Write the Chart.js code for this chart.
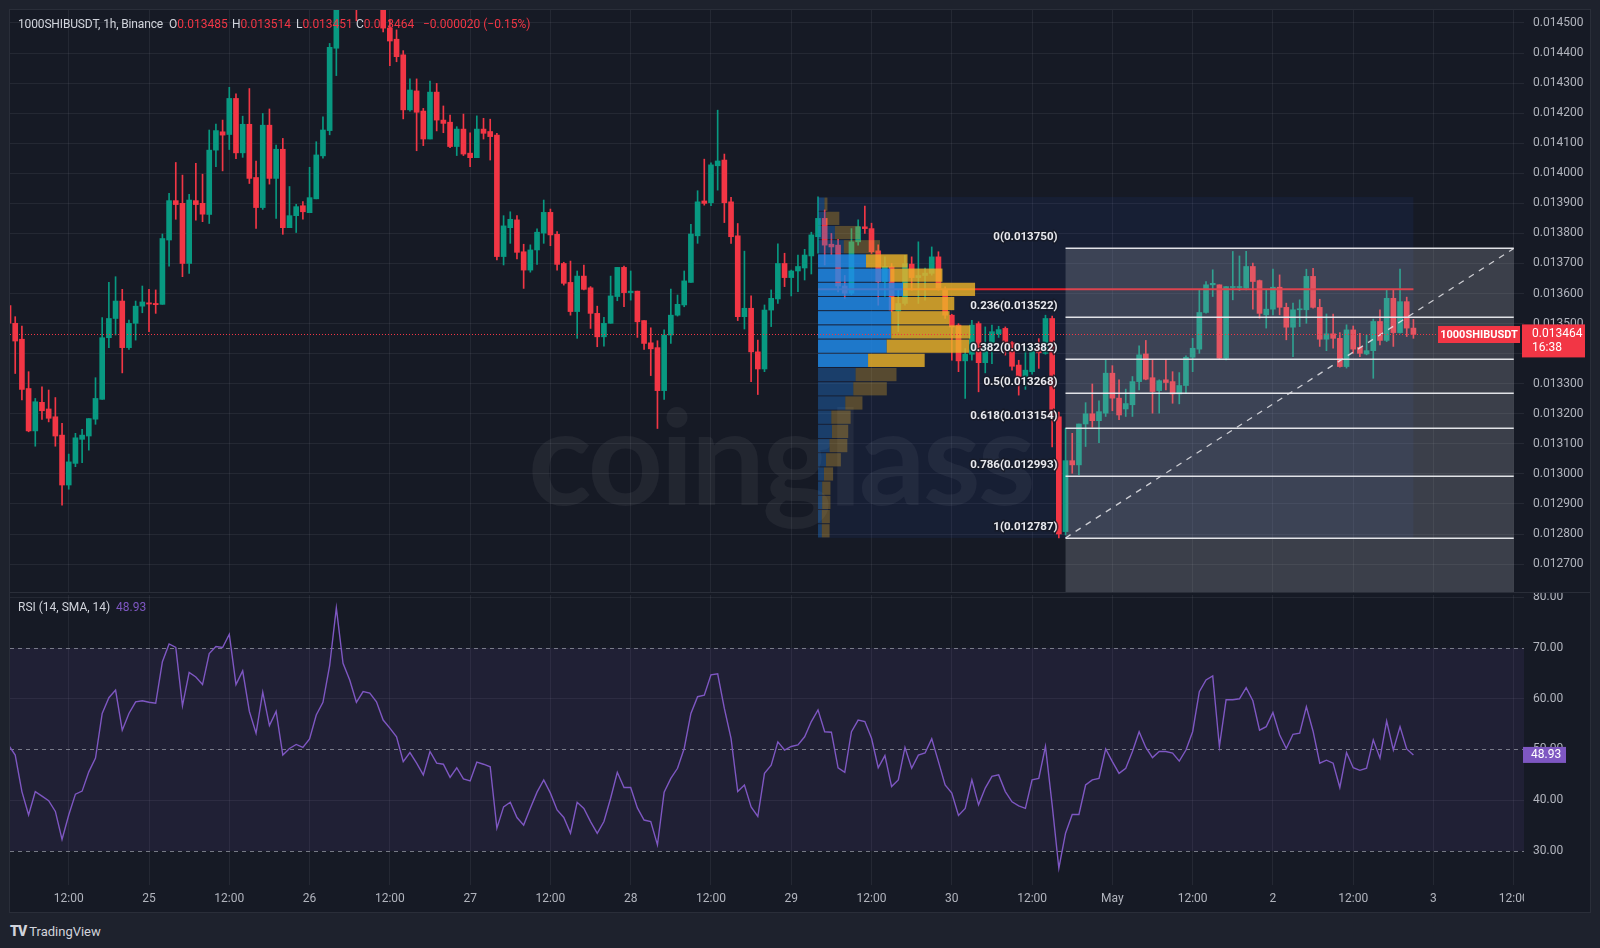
<!DOCTYPE html>
<html><head><meta charset="utf-8">
<script src="https://cdn.jsdelivr.net/npm/chart.js@4.4.1/dist/chart.umd.min.js"></script>
<style>
html,body{margin:0;padding:0}
body{width:1600px;height:948px;overflow:hidden;position:relative;background:#1e222d;font-family:Roboto,"DejaVu Sans",sans-serif}
#pane{position:absolute;left:10px;top:10px;width:1580px;height:902px;background:#161a25;box-shadow:0 0 0 1px #2a2e39}
#sep{position:absolute;left:10px;top:592px;width:1580px;height:1px;background:#2a2e39;z-index:3}
#wm{position:absolute;left:528px;top:388px;font-family:Lato,"Open Sans",sans-serif;font-weight:700;font-size:132px;line-height:132px;letter-spacing:-3px;color:rgba(255,255,255,0.055);z-index:1;white-space:nowrap}
canvas{position:absolute;left:0;z-index:2}
.t{position:absolute;font-size:12px;line-height:14px;color:#d1d4dc;white-space:nowrap;z-index:4}
.r{color:#f23645}
.p{color:#7e57c2}
#tv{position:absolute;left:10px;top:922px;color:#d1d4dc;font-size:13px;line-height:18px;white-space:nowrap}
#tv b{font-weight:900;letter-spacing:-1px;margin-right:3px;font-size:14px}
</style></head>
<body>
<div id="pane"></div>
<div id="wm">coinglass</div>
<canvas id="price" width="1600" height="593" style="top:0"></canvas>
<canvas id="rsi" width="1600" height="319" style="top:593px"></canvas>
<div id="sep"></div>
<div class="t" style="left:18px;top:17px;letter-spacing:-0.15px">1000SHIBUSDT, 1h, Binance</div>
<div class="t" style="left:169px;top:17px">O<span class="r">0.013485</span></div>
<div class="t" style="left:232px;top:17px">H<span class="r">0.013514</span></div>
<div class="t" style="left:296px;top:17px">L<span class="r">0.013451</span></div>
<div class="t" style="left:356px;top:17px">C<span class="r">0.013464</span></div>
<div class="t r" style="left:423px;top:17px">−0.000020 (−0.15%)</div>
<div class="t" style="left:18px;top:600px">RSI (14, SMA, 14)</div>
<div class="t p" style="left:116px;top:600px">48.93</div>
<div id="tv"><b>TV</b>TradingView</div>
<script>
// ---- DATA (prices in units of 0.000001 USDT) ----
const firstHour = -21; // hours relative to 25 Apr 00:00
const open = [13560,13501,13448,13284,13143,13238,13216,13190,13129,12963,13035,13115,13126,13182,13248,13453,13517,13575,13420,13501,13558,13569,13567,13564,13778,13909,13900,13700,13909,13900,13863,14077,14138,14129,14249,14068,14163,13986,13886,14160,13983,14080,13819,13859,13892,13869,13915,14058,14142,14416,14560,14620,14680,14600,14640,14610,14580,14483,14446,14394,14211,14274,14207,14114,14270,14177,14170,14089,14147,14067,14052,14147,14139,14127,13723,13819,13845,13739,13678,13745,13801,13870,13797,13700,13637,13540,13658,13619,13534,13456,13501,13590,13687,13603,13608,13510,13436,13420,13277,13462,13528,13562,13637,13792,13908,13902,14025,14044,13905,13792,13523,13551,13406,13349,13545,13582,13700,13653,13675,13685,13725,13789,13850,13764,13761,13625,13601,13772,13822,13816,13742,13639,13689,13542,13567,13698,13653,13660,13667,13722,13611,13528,13495,13376,13398,13500,13370,13431,13465,13484,13436,13362,13323,13340,13417,13401,13517,13190,12808,13044,13030,13166,13200,13177,13202,13335,13252,13216,13230,13307,13399,13320,13277,13313,13307,13266,13294,13388,13415,13537,13629,13629,13385,13620,13620,13618,13690,13643,13529,13548,13621,13554,13488,13546,13546,13657,13554,13448,13466,13451,13357,13479,13421,13399,13410,13507,13444,13584,13470,13573,13485];
const high = [13570,13523,13492,13340,13251,13290,13279,13254,13168,13066,13135,13148,13184,13320,13520,13637,13656,13614,13512,13575,13625,13614,13612,13798,13933,14036,13994,13930,14033,13997,14144,14164,14177,14286,14264,14190,14282,14041,14199,14214,14094,14116,13956,13897,13906,14020,14105,14188,14432,14580,14660,14720,14700,14680,14660,14630,14600,14510,14477,14408,14314,14314,14216,14307,14299,14224,14194,14155,14197,14135,14191,14183,14180,14133,13859,13872,13859,13764,13762,13815,13911,13881,13806,13704,13708,13675,13695,13623,13558,13521,13658,13687,13691,13675,13608,13510,13486,13443,13479,13615,13595,13675,13830,13942,14047,14035,14210,14064,13920,13833,13741,13592,13445,13562,13612,13765,13734,13678,13728,13747,13804,13922,13878,13800,13780,13660,13816,13845,13891,13834,13762,13722,13700,13611,13727,13722,13772,13685,13755,13739,13622,13531,13500,13417,13511,13506,13489,13495,13491,13489,13440,13378,13423,13431,13450,13528,13525,13206,13152,13135,13166,13237,13299,13243,13379,13360,13313,13282,13324,13426,13444,13379,13313,13381,13340,13337,13393,13451,13614,13640,13679,13629,13623,13740,13725,13740,13701,13645,13612,13681,13662,13568,13568,13579,13681,13684,13581,13532,13532,13470,13496,13492,13468,13462,13515,13546,13612,13614,13681,13588,13514];
const low = [13495,13334,13246,13140,13092,13181,13173,13092,12896,12949,13024,13037,13079,13165,13248,13420,13462,13336,13414,13445,13536,13473,13534,13564,13691,13847,13656,13667,13844,13839,13833,14022,14008,14079,14049,14053,13966,13817,13880,13964,13850,13797,13819,13803,13847,13869,13915,14050,14128,14325,14555,14600,14507,14570,14560,14555,14470,14358,14371,14181,14207,14075,14092,14114,14141,14135,14085,14059,14059,14022,14052,14114,14044,13712,13695,13767,13715,13617,13671,13697,13767,13759,13678,13628,13528,13451,13612,13484,13423,13425,13501,13576,13556,13578,13454,13414,13327,13151,13248,13434,13525,13556,13637,13767,13894,13892,13944,13836,13767,13510,13482,13307,13264,13340,13490,13567,13623,13592,13606,13645,13665,13734,13695,13729,13605,13584,13596,13761,13800,13733,13561,13590,13539,13473,13561,13611,13567,13578,13661,13611,13517,13378,13340,13251,13378,13273,13336,13367,13454,13395,13345,13262,13281,13332,13351,13398,13090,12787,12797,13002,12997,13091,13155,13104,13191,13210,13180,13191,13191,13279,13313,13202,13202,13279,13235,13233,13268,13340,13401,13535,13590,13381,13379,13579,13610,13612,13548,13518,13485,13529,13529,13446,13390,13490,13501,13551,13424,13410,13418,13355,13352,13401,13390,13396,13318,13429,13440,13424,13468,13457,13451];
const close = [13501,13442,13281,13143,13240,13210,13185,13126,12963,13040,13120,13129,13184,13251,13453,13517,13575,13420,13501,13558,13572,13565,13563,13783,13909,13896,13700,13911,13896,13864,14077,14142,14127,14249,14068,14163,13983,13886,14160,13983,14080,13819,13859,13889,13872,13919,14061,14144,14419,14560,14620,14680,14600,14640,14610,14580,14483,14440,14388,14211,14277,14203,14114,14270,14177,14166,14089,14147,14064,14052,14147,14133,14122,13723,13825,13847,13737,13678,13745,13804,13870,13795,13697,13634,13540,13658,13614,13534,13456,13501,13592,13687,13603,13608,13506,13434,13416,13277,13462,13528,13564,13642,13798,13905,13900,14028,14041,13902,13789,13523,13551,13406,13349,13545,13584,13700,13653,13675,13690,13728,13795,13850,13761,13755,13625,13601,13772,13822,13816,13739,13639,13690,13545,13567,13700,13653,13660,13668,13722,13617,13528,13489,13376,13398,13495,13370,13434,13473,13480,13434,13358,13323,13345,13417,13403,13517,13190,12800,13044,13030,13166,13200,13177,13207,13335,13252,13196,13234,13307,13396,13315,13274,13310,13304,13266,13294,13388,13418,13537,13629,13634,13385,13623,13623,13623,13690,13640,13534,13548,13621,13554,13488,13546,13548,13657,13554,13448,13466,13451,13357,13479,13415,13401,13410,13507,13444,13584,13470,13573,13485,13464];
const rsi = [50.9,48.9,41.7,37.1,41.7,40.8,39.9,37.8,32.3,37.1,41.2,41.8,45.6,48.3,57.1,60.2,61.7,53.8,57.1,59.4,59.6,59.3,59.1,67.3,70.8,70.1,58.6,65.2,64.3,62.8,68.9,70.3,70.1,72.7,62.8,65.5,57.5,53.2,61.3,54.7,57.5,48.9,50.2,51.0,50.4,52.1,56.8,59.3,66.5,77.9,67.0,63.7,59.3,61.4,61.1,59.4,55.8,54.2,52.5,47.6,49.4,47.3,45.0,49.6,47.3,47.1,44.5,46.4,44.2,43.8,47.5,47.1,46.6,34.5,38.7,39.6,36.6,35.1,38.4,41.6,44.0,41.4,38.1,36.6,33.5,39.6,38.4,35.8,33.5,35.8,40.4,45.5,42.5,42.5,38.5,36.1,35.8,31.2,41.6,44.3,46.3,50.2,57.1,60.4,60.7,64.7,64.9,58.1,52.2,41.7,43.0,38.7,36.8,45.3,46.9,51.5,49.9,50.6,50.9,52.5,55.5,57.8,53.5,53.4,46.4,45.5,53.5,55.8,55.5,52.2,46.4,48.8,42.7,44.0,50.4,46.3,48.9,49.3,52.1,47.6,43.0,41.4,37.0,38.4,44.0,39.1,42.4,44.7,45.0,41.7,39.7,38.9,38.4,44.0,44.3,50.6,39.1,26.6,33.5,37.2,37.2,43.0,44.0,44.3,50.1,47.6,45.3,46.3,49.6,53.5,50.4,48.4,49.6,49.6,49.3,47.7,49.9,53.5,61.4,63.7,64.5,50.6,59.8,59.8,60.0,62.2,59.6,53.8,54.5,57.3,52.9,50.2,53.0,53.2,58.4,53.6,47.3,47.9,47.3,42.5,49.4,46.4,45.9,46.3,51.9,48.3,55.6,49.9,54.5,50.1,48.93];

const priceTicks = [12700,12800,12900,13000,13100,13200,13300,13400,13500,13600,13700,13800,13900,14000,14100,14200,14300,14400,14500];
const rsiTicks = [30,40,50,60,70,80];
const rsiLevels = [70,50,30];
const timeTicks = [-12,0,12,24,36,48,60,72,84,96,108,120,132,144,156,168,180,192,204];
const timeLabels = ['12:00','25','12:00','26','12:00','27','12:00','28','12:00','29','12:00','30','12:00','May','12:00','2','12:00','3','12:00'];

// Fibonacci retracement
const fibRatios = ['0','0.236','0.382','0.5','0.618','0.786','1'];
const fibPrices = [13750,13522,13382,13268,13154,12993,12787];
const fibStartHour = 137, fibEndHour = 204;

// Fixed range volume profile (rows from top to bottom)
const vpStartHour = 100, vpEndHour = 189, vpTop = 13921, vpBottom = 12787;
const vpUp   = [73,90,190,290,540,813,957,823,823,823,773,563,423,397,307,150,157,130,90,67,47,47,43,43];
const vpDown = [33,150,283,407,467,587,810,710,657,890,927,637,460,377,193,217,183,200,167,103,93,93,90,87];
const vpValueArea = [0,0,0,0,1,1,1,1,1,1,1,1,0,0,0,0,0,0,0,0,0,0,0,0];

const lastPrice = 13464, lastRsi = 48.93, countdown = '16:38', symbol = '1000SHIBUSDT';

// ---- view range ----
const xMin = -20.78, xMax = 205.53;
const yMin = 12607.1, yMax = 14543.2;
const rMin = 23.3, rMax = 80.44;

const GREEN = '#089981', RED = '#f23645', GRID = 'rgba(240,243,250,0.065)', PANE = '#161a25';
Chart.defaults.font.family = 'Roboto, "DejaVu Sans", sans-serif';
Chart.defaults.font.size = 12;
Chart.defaults.color = '#b2b5be';

const hours = open.map((_, i) => firstHour + i);
const colors = open.map((o, i) => close[i] >= o ? GREEN : RED);
const fmtP = v => (v / 1e6).toFixed(6);

const fitY = s => { s.width = 66; s.paddingTop = 0; s.paddingBottom = 0; };
const fitX = h => s => { s.height = h; s.paddingLeft = 0; s.paddingRight = 0; s.paddingTop = 0; s.paddingBottom = 0; };

const priceOverlay = {
  id: 'priceOverlay',
  beforeDatasetsDraw(chart) {
    const {ctx, chartArea: a, scales: {x, y}} = chart;
    ctx.save();
    ctx.beginPath(); ctx.rect(a.left, a.top, a.right - a.left, a.bottom - a.top); ctx.clip();
    const x0 = x.getPixelForValue(vpStartHour), x1 = x.getPixelForValue(vpEndHour);
    const yt = y.getPixelForValue(vpTop), yb = y.getPixelForValue(vpBottom);
    ctx.fillStyle = 'rgba(41,98,255,0.07)';
    ctx.fillRect(x0, yt, x1 - x0, yb - yt);
    ctx.restore();
  },
  afterDatasetsDraw(chart) {
    const {ctx, chartArea: a, scales: {x, y, vol}} = chart;
    ctx.save();
    ctx.beginPath(); ctx.rect(a.left, a.top, a.right - a.left, a.bottom - a.top); ctx.clip();
    const vx0 = x.getPixelForValue(vpStartHour), vx1 = x.getPixelForValue(vpEndHour);
    const n = vpUp.length, rowH = (vpTop - vpBottom) / n;
    // POC line
    let poc = 0, best = -1;
    vpUp.forEach((u, i) => { if (u + vpDown[i] > best) { best = u + vpDown[i]; poc = i; } });
    const pocY = y.getPixelForValue(vpTop - (poc + 0.5) * rowH);
    ctx.strokeStyle = '#e8222c'; ctx.lineWidth = 2;
    ctx.beginPath(); ctx.moveTo(vx0, pocY); ctx.lineTo(vx1, pocY); ctx.stroke();
    // VP rows
    const v0 = vol.getPixelForValue(0);
    for (let i = 0; i < n; i++) {
      const top = y.getPixelForValue(vpTop - i * rowH), bot = y.getPixelForValue(vpTop - (i + 1) * rowH);
      const bu = vol.getPixelForValue(vpUp[i]) - v0;
      const bd = vol.getPixelForValue(vpUp[i] + vpDown[i]) - v0;
      const va = vpValueArea[i];
      ctx.fillStyle = va ? 'rgba(33,140,235,0.82)' : 'rgba(33,130,220,0.32)';
      ctx.fillRect(vx0, top + 0.5, bu, bot - top - 1);
      ctx.fillStyle = va ? 'rgba(236,178,40,0.82)' : 'rgba(236,178,40,0.3)';
      ctx.fillRect(vx0 + bu, top + 0.5, bd - bu, bot - top - 1);
    }
    // Fib fill
    const fx0 = x.getPixelForValue(fibStartHour), fx1 = x.getPixelForValue(fibEndHour);
    const f0 = y.getPixelForValue(fibPrices[0]);
    ctx.fillStyle = 'rgba(180,182,192,0.24)';
    ctx.fillRect(fx0, f0, fx1 - fx0, a.bottom - f0);
    // Fib lines
    ctx.strokeStyle = 'rgba(235,236,240,0.95)'; ctx.lineWidth = 1.5;
    fibPrices.forEach(p => {
      const yy = Math.round(y.getPixelForValue(p)) + 0.25;
      ctx.beginPath(); ctx.moveTo(fx0, yy); ctx.lineTo(fx1, yy); ctx.stroke();
    });
    // trend line
    ctx.setLineDash([6, 6]); ctx.lineWidth = 1.3; ctx.strokeStyle = 'rgba(230,230,235,0.85)';
    ctx.beginPath();
    ctx.moveTo(fx0, y.getPixelForValue(fibPrices[fibPrices.length - 1]));
    ctx.lineTo(fx1, y.getPixelForValue(fibPrices[0])); ctx.stroke();
    ctx.setLineDash([]);
    // Fib labels
    ctx.font = 'bold 11.5px Roboto, sans-serif';
    ctx.textAlign = 'right'; ctx.textBaseline = 'middle';
    fibPrices.forEach((p, i) => {
      const txt = fibRatios[i] + '(' + fmtP(p) + ')';
      const yy = y.getPixelForValue(p) - 11;
      ctx.lineWidth = 3; ctx.strokeStyle = 'rgba(22,26,37,0.8)';
      ctx.strokeText(txt, fx0 - 8, yy);
      ctx.fillStyle = '#e8e9ee';
      ctx.fillText(txt, fx0 - 8, yy);
    });
    // last price dotted line and symbol tag
    const ly = Math.round(y.getPixelForValue(lastPrice)) + 0.5;
    const tagR = a.right - 4, tagL = tagR - 82;
    ctx.strokeStyle = RED; ctx.lineWidth = 1; ctx.setLineDash([1, 2]);
    ctx.beginPath(); ctx.moveTo(a.left, ly); ctx.lineTo(tagL, ly); ctx.stroke();
    ctx.setLineDash([]);
    ctx.fillStyle = RED;
    ctx.fillRect(tagL, ly - 8.5, tagR - tagL, 17);
    ctx.fillStyle = '#ffffff'; ctx.font = 'bold 11px Roboto, sans-serif';
    ctx.textAlign = 'center';
    ctx.fillText(symbol, (tagL + tagR) / 2, ly + 0.5);
    ctx.restore();
  },
  afterDraw(chart) {
    const {ctx, chartArea: a, scales: {y}} = chart;
    const ly = y.getPixelForValue(lastPrice);
    ctx.save();
    ctx.fillStyle = RED;
    ctx.fillRect(a.right - 2, ly - 10, 63, 33);
    ctx.fillStyle = '#ffffff'; ctx.font = '12px Roboto, sans-serif';
    ctx.textAlign = 'left'; ctx.textBaseline = 'middle';
    ctx.fillText(fmtP(lastPrice), a.right + 8, ly - 0.5);
    ctx.fillText(countdown, a.right + 8, ly + 13.5);
    ctx.restore();
  }
};

new Chart(document.getElementById('price'), {
  type: 'bar',
  data: {
    datasets: [
      { label: 'wick', data: hours.map((h, i) => ({x: h, y: [low[i], high[i]]})),
        backgroundColor: colors, barThickness: 1, grouped: false, order: 2 },
      { label: 'body', data: hours.map((h, i) => ({x: h, y: [Math.min(open[i], close[i]), Math.max(open[i], close[i])]})),
        backgroundColor: colors, barThickness: 5, minBarLength: 1, grouped: false, order: 1 }
    ]
  },
  options: {
    responsive: false, animation: false, devicePixelRatio: 1,
    layout: {padding: {left: 10, top: 10, right: 10, bottom: 1}},
    plugins: {legend: {display: false}, tooltip: {enabled: false}},
    scales: {
      x: { type: 'linear', min: xMin, max: xMax, offset: false, bounds: 'data',
        afterBuildTicks: s => { s.ticks = timeTicks.map(v => ({value: v})); },
        afterFit: fitX(0),
        ticks: {display: false}, grid: {color: GRID, drawTicks: false, offset: false}, border: {display: false} },
      vol: { type: 'linear', axis: 'x', display: false, min: 0, max: 15140 },
      y: { type: 'linear', position: 'right', min: yMin, max: yMax, bounds: 'data',
        afterBuildTicks: s => { s.ticks = priceTicks.map(v => ({value: v})); },
        afterFit: fitY,
        ticks: {padding: 9, callback: v => fmtP(v), color: '#b2b5be'},
        grid: {color: GRID, drawTicks: false}, border: {display: false} }
    }
  },
  plugins: [priceOverlay]
});

const rsiOverlay = {
  id: 'rsiOverlay',
  beforeDatasetsDraw(chart) {
    const {ctx, chartArea: a, scales: {y}} = chart;
    ctx.save();
    const t = y.getPixelForValue(rsiLevels[0]), b = y.getPixelForValue(rsiLevels[2]);
    ctx.fillStyle = 'rgba(126,87,194,0.1)';
    ctx.fillRect(a.left, t, a.right - a.left, b - t);
    ctx.strokeStyle = 'rgba(150,153,164,0.75)'; ctx.lineWidth = 1; ctx.setLineDash([4, 4]);
    rsiLevels.forEach(l => {
      const yy = Math.round(y.getPixelForValue(l)) + 0.5;
      ctx.beginPath(); ctx.moveTo(a.left, yy); ctx.lineTo(a.right, yy); ctx.stroke();
    });
    ctx.restore();
  },
  afterDraw(chart) {
    const {ctx, chartArea: a, scales: {y}} = chart;
    const yy = y.getPixelForValue(lastRsi);
    ctx.save();
    // time axis labels are clipped at the plot's right edge
    ctx.fillStyle = PANE;
    ctx.fillRect(a.right, a.bottom + 1, 60, chart.height - a.bottom - 1);
    ctx.fillStyle = '#7e57c2';
    ctx.fillRect(a.right - 1, yy - 8, 43, 16);
    ctx.fillStyle = '#ffffff'; ctx.font = '12px Roboto, sans-serif';
    ctx.textAlign = 'left'; ctx.textBaseline = 'middle';
    ctx.fillText(lastRsi.toFixed(2), a.right + 7, yy + 0.5);
    ctx.restore();
  }
};

new Chart(document.getElementById('rsi'), {
  type: 'line',
  data: { datasets: [{ label: 'RSI', data: hours.map((h, i) => ({x: h, y: rsi[i]})),
    borderColor: '#7e57c2', borderWidth: 1.4, pointRadius: 0, tension: 0 }] },
  options: {
    responsive: false, animation: false, devicePixelRatio: 1,
    layout: {padding: {left: 10, top: 2, right: 10, bottom: 0}},
    plugins: {legend: {display: false}, tooltip: {enabled: false}},
    scales: {
      x: { type: 'linear', min: xMin, max: xMax, offset: false, bounds: 'data',
        afterBuildTicks: s => { s.ticks = timeTicks.map(v => ({value: v})); },
        afterFit: fitX(27),
        ticks: {autoSkip: false, maxRotation: 0, padding: 7, color: '#b2b5be',
          callback: v => timeLabels[timeTicks.indexOf(v)]},
        grid: {color: GRID, drawTicks: false, offset: false}, border: {display: false} },
      y: { type: 'linear', position: 'right', min: rMin, max: rMax, bounds: 'data',
        afterBuildTicks: s => { s.ticks = rsiTicks.map(v => ({value: v})); },
        afterFit: fitY,
        ticks: {padding: 9, callback: v => v.toFixed(2), color: '#b2b5be'},
        grid: {color: c => (c.tick && rsiLevels.includes(c.tick.value)) ? 'rgba(0,0,0,0)' : GRID, drawTicks: false},
        border: {display: false} }
    }
  },
  plugins: [rsiOverlay]
});
</script>
</body></html>
